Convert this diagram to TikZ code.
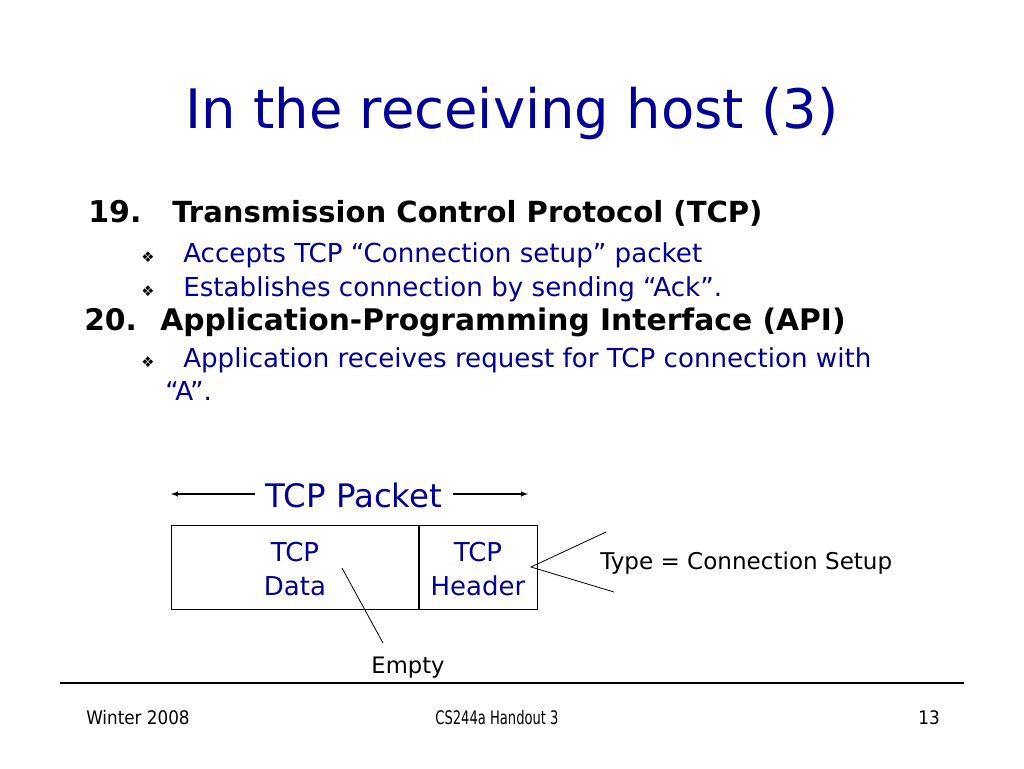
\documentclass[tikz,border=0pt]{standalone}
\usepackage{fontspec}
\setmainfont{DejaVu Sans}
\newfontfamily\condfont{DejaVu Sans Condensed}
\definecolor{slideblue}{RGB}{0,0,153}
\begin{document}
\begin{tikzpicture}[x=0.75pt,y=-0.75pt,
  txt/.style={inner sep=0pt,anchor=base west},
  ctxt/.style={inner sep=0pt,anchor=base},
  titlefont/.style={font=\fontsize{40.8}{48}\selectfont,text=slideblue},
  headnum/.style={font=\fontsize{22.5}{26}\selectfont\bfseries,text=black},
  headtxt/.style={font=\fontsize{21.8}{26}\selectfont\bfseries,text=black},
  headbig/.style={font=\fontsize{22.3}{26}\selectfont\bfseries,text=black},
  body/.style={font=\fontsize{19.6}{23}\selectfont,text=slideblue},
  bul/.style={font=\fontsize{11}{12}\selectfont,text=black},
  cell/.style={draw=black,line width=0.9pt,inner sep=0pt,minimum height=63pt},
  celltxt/.style={font=\fontsize{19.5}{24}\selectfont,text=slideblue,inner sep=0pt,anchor=base},
  note/.style={font=\fontsize{17}{20}\selectfont,text=black,inner sep=0pt},
  foot/.style={font=\condfont\fontsize{14}{16}\selectfont,text=black,inner sep=0pt,anchor=base},
  ptr/.style={draw=black,line width=0.6pt},
  dimarrow/.style={draw=black,line width=0.8pt,-latex}]
\useasboundingbox (0,0) rectangle (1024,768);
\fill[white] (0,0) rectangle (1024,768);
% title
\node[ctxt,titlefont] (title) at (512,128) {In the receiving host (3)};
% item 19
\node[txt,headnum] (n19) at (88,222) {19.};
\node[txt,headtxt] (h19) at (172,222) {Transmission Control Protocol (TCP)};
\node[txt,bul] (b1) at (141,262) {❖};
\node[txt,body] (t1) at (183,262) {Accepts TCP “Connection setup” packet};
\node[txt,bul] (b2) at (141,296) {❖};
\node[txt,body] (t2) at (183,296) {Establishes connection by sending “Ack”.};
% item 20
\node[txt,headbig] (n20) at (84,330) {20.};
\node[txt,headbig] (h20) at (160,330) {Application-Programming Interface (API)};
\node[txt,bul] (b3) at (141,367) {❖};
\node[txt,body] (t3) at (183,367) {Application receives request for TCP connection with};
\node[txt,body] (t4) at (165,400) {“A”.};
% packet label
\node[ctxt,font=\fontsize{24.3}{28}\selectfont,text=slideblue] (pk) at (354,507) {TCP Packet};
\coordinate (la) at (171,494);
\coordinate (lb) at (255,494);
\coordinate (ra) at (453,494);
\coordinate (rb) at (528,494);
\draw[dimarrow] (lb) -- (la);
\draw[dimarrow] (ra) -- (rb);
% packet cells
\node[cell,minimum width=186pt,anchor=north west] (data) at (171,525) {};
\node[cell,minimum width=89.3pt,anchor=north west] (hdr) at (418,525) {};
\node[celltxt] (dtcp) at (295,561) {TCP};
\node[celltxt] (ddata) at (295,595) {Data};
\node[celltxt] (htcp) at (478,561) {TCP};
\node[celltxt] (hhdr) at (478,595) {Header};
% pointers
\node[note,anchor=base] (empty) at (408,673) {Empty};
\coordinate (dp) at (342,568);
\coordinate (ep) at (383,643);
\draw[ptr] (dp) -- (ep);
\node[note,font=\fontsize{17.3}{20}\selectfont,anchor=base west] (type) at (600,569) {Type = Connection Setup};
\coordinate (apex) at (531,567);
\coordinate (up) at (606,532);
\coordinate (lo) at (614,592);
\draw[ptr] (up) -- (apex) -- (lo);
% footer
\coordinate (r1) at (60,683);
\coordinate (r2) at (964,683);
\draw[black,line width=0.8pt] (r1) -- (r2);
\node[foot,anchor=base west] (f1) at (86,724) {Winter 2008};
\node[foot] (f2) at (497,724) {\scalebox{0.78}[1]{CS244a Handout 3}};
\node[foot,anchor=base east] (f3) at (940,724) {13};
\end{tikzpicture}
\end{document}
